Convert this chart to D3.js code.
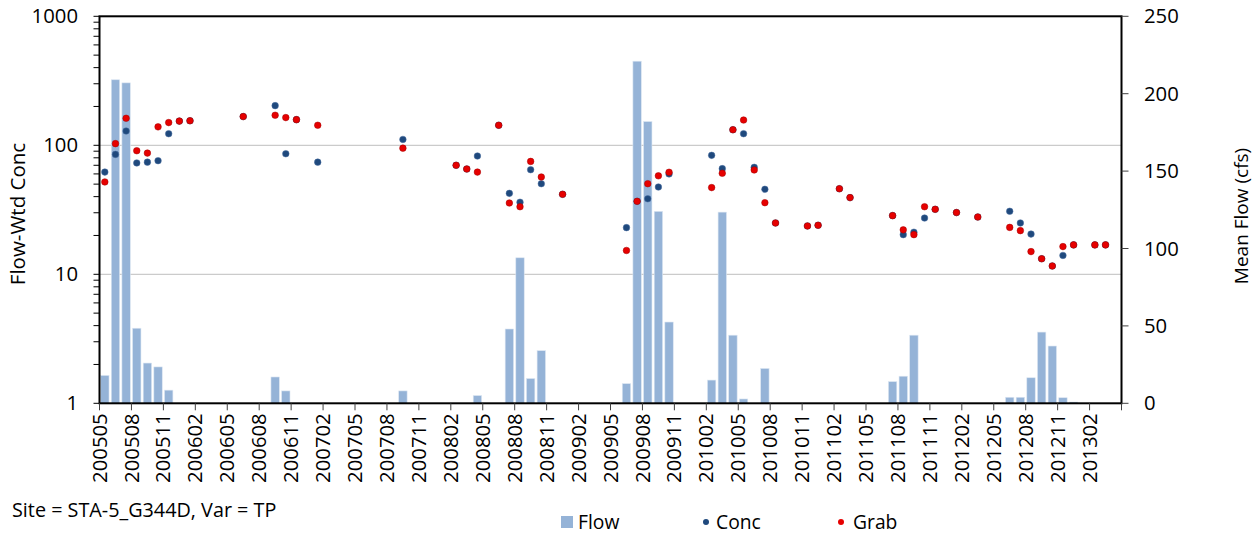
<!DOCTYPE html>
<html><head><meta charset="utf-8">
<script src="https://cdn.jsdelivr.net/npm/d3@7"></script>
<style>
body{margin:0;background:#fff;}
svg{display:block;font-family:"Open Sans","Liberation Sans",sans-serif;}
</style></head><body>
<svg id="c" width="1258" height="535"></svg>
<script>
// Categories: monthly, 200505 .. 201304
const months = [
 "200505","200506","200507","200508","200509","200510","200511","200512",
 "200601","200602","200603","200604","200605","200606","200607","200608","200609","200610","200611","200612",
 "200701","200702","200703","200704","200705","200706","200707","200708","200709","200710","200711","200712",
 "200801","200802","200803","200804","200805","200806","200807","200808","200809","200810","200811","200812",
 "200901","200902","200903","200904","200905","200906","200907","200908","200909","200910","200911","200912",
 "201001","201002","201003","201004","201005","201006","201007","201008","201009","201010","201011","201012",
 "201101","201102","201103","201104","201105","201106","201107","201108","201109","201110","201111","201112",
 "201201","201202","201203","201204","201205","201206","201207","201208","201209","201210","201211","201212",
 "201301","201302","201303","201304"
];
// Tick labels (every 3 months)
const tickLabels = ["200505","200508","200511","200602","200605","200608","200611","200702","200705","200708",
 "200711","200802","200805","200808","200811","200902","200905","200908","200911","201002","201005","201008",
 "201011","201102","201105","201108","201111","201202","201205","201208","201211","201302"];

// Mean flow (cfs), right axis
const flowMonths = ["200505","200506","200507","200508","200509","200510","200511","200609","200610","200709",
 "200804","200807","200808","200809","200810","200906","200907","200908","200909","200910",
 "201002","201003","201004","201005","201007","201107","201108","201109",
 "201206","201207","201208","201209","201210","201211","201212"];
const flowValues = [18,209,207,48.5,26,23.5,8.5,17,8,8,
 5,48,94,16,34,12.7,221,182,124,52.5,
 15,123.5,44,2.8,22.5,14,17.5,44,
 3.9,3.9,16.5,46,37,3.6,0.8];

// Flow-weighted concentration (left, log axis)
const concMonths = ["200505","200506","200507","200508","200509","200510","200511","200512","200601","200606",
 "200609","200610","200611","200701","200709","200802","200803","200804","200806","200807","200808","200809",
 "200810","200812","200906","200907","200908","200909","200910","201002","201003","201004","201005","201006",
 "201007","201008","201011","201012","201102","201103","201107","201108","201109","201110","201111","201201",
 "201203","201206","201207","201208","201209","201210","201211","201212","201302","201303"];
const concValues = [62,85,129,73,74,76,123,154,155,167,
 203,86,158,74,111,70,65.5,82.6,143,42.4,36.2,64.7,
 50.4,41.7,23,36.8,38.5,47.5,60,83.6,65.9,132,123,67.5,
 45.6,25,23.7,24,46,39.3,28.5,20.3,21.2,27.3,31.9,30.1,
 27.8,30.8,25,20.5,13.2,11.6,14,16.9,16.9,16.9];

// Grab samples (left, log axis)
const grabMonths = concMonths;
const grabValues = [52,103,162,90.8,87,139,150,154,155,167,
 171,164,158,143,95,70,65.5,62,143,35.7,33.4,75,
 56.8,41.7,15.3,36.8,50.4,58,61.8,47,60.7,132,157,64.4,
 35.9,25,23.7,24,46.1,39.3,28.5,22.1,20.3,33.4,31.9,30.1,
 27.8,23.1,21.8,15,13.2,11.6,16.4,16.9,16.9,16.9];

const leftTicks = [1,10,100,1000];
const rightTicks = [0,50,100,150,200,250];

const svg = d3.select("#c");
const L = 99.5, R = 1121.5, T = 16.3, B = 403.3;

const x = d3.scaleBand().domain(months).range([L, R]).paddingInner(0.25).paddingOuter(0.125);
const step = x.step();
const xb = m => L + months.indexOf(m) * step; // boundary (left edge of month slot)
const xc = m => L + (months.indexOf(m) + 0.5) * step;
const yL = d3.scaleLog().domain([1, 1000]).range([B, T]);
const yR = d3.scaleLinear().domain([0, 250]).range([B, T]);

// gridlines
svg.append("g").selectAll("line").data([10,100]).join("line")
  .attr("x1", L).attr("x2", R).attr("y1", d => yL(d)).attr("y2", d => yL(d))
  .attr("stroke", "#bfbfbf").attr("stroke-width", 1);

// bars
const flow = flowMonths.map((m,i)=>({m, v: flowValues[i]}));
svg.append("g").selectAll("rect").data(flow).join("rect")
  .attr("x", d => xc(d.m) - 4.2).attr("width", 8.4)
  .attr("y", d => yR(d.v)).attr("height", d => B - yR(d.v))
  .attr("fill", "#95b3d7").attr("stroke", "#dce6f2").attr("stroke-width", 0.6);

// conc points
const conc = concMonths.map((m,i)=>({m, v: concValues[i]}));
svg.append("g").selectAll("circle").data(conc).join("circle")
  .attr("cx", d => xc(d.m)).attr("cy", d => yL(d.v)).attr("r", 3.3)
  .attr("fill", "#1f497d").attr("stroke", "#4a6fa0").attr("stroke-width", 0.5);
// grab points
const grab = grabMonths.map((m,i)=>({m, v: grabValues[i]}));
svg.append("g").selectAll("circle").data(grab).join("circle")
  .attr("cx", d => xc(d.m)).attr("cy", d => yL(d.v)).attr("r", 3.3)
  .attr("fill", "#e60000").attr("stroke", "#a00000").attr("stroke-width", 0.5);

// frame
svg.append("rect").attr("x", L).attr("y", T).attr("width", R-L).attr("height", B-T)
  .attr("fill", "none").attr("stroke", "#000").attr("stroke-width", 2);

// left axis with minor ticks
const minor = [];
[1,10,100].forEach(d => { for (let k=2;k<10;k++) minor.push(d*k); });
svg.append("g").selectAll("line").data(leftTicks.concat(minor)).join("line")
  .attr("x1", L-6).attr("x2", L).attr("y1", d => yL(d)).attr("y2", d => yL(d))
  .attr("stroke", "#000").attr("stroke-width", 1);
svg.append("g").selectAll("text").data(leftTicks).join("text")
  .attr("x", 78).attr("y", d => yL(d)).attr("dy", "0.35em").attr("text-anchor", "end")
  .attr("font-size", 20.3).text(d => d);

// right axis
svg.append("g").selectAll("line").data(rightTicks).join("line")
  .attr("x1", R).attr("x2", R+7).attr("y1", d => yR(d)).attr("y2", d => yR(d))
  .attr("stroke", "#404040").attr("stroke-width", 1);
svg.append("g").selectAll("text").data(rightTicks).join("text")
  .attr("x", 1144).attr("y", d => yR(d)).attr("dy", "0.35em").attr("text-anchor", "start")
  .attr("font-size", 20.3).text(d => d);

// x axis ticks + labels
svg.append("g").selectAll("line").data(tickLabels).join("line")
  .attr("x1", d => xb(d)).attr("x2", d => xb(d)).attr("y1", B).attr("y2", B+7)
  .attr("stroke", "#404040").attr("stroke-width", 1);
svg.append("line").attr("x1", R).attr("x2", R).attr("y1", B).attr("y2", B+7)
  .attr("stroke", "#404040");
svg.append("g").selectAll("text").data(tickLabels).join("text")
  .attr("transform", d => `translate(${xb(d)},${B+10}) rotate(-90)`)
  .attr("dy", "0.35em").attr("text-anchor", "end").attr("font-size", 20.3).text(d => d);

// axis titles
svg.append("text").attr("transform", "translate(18,214) rotate(-90)")
  .attr("text-anchor", "middle").attr("dy", "0.35em").attr("font-size", 20.5).text("Flow-Wtd Conc");
svg.append("text").attr("transform", "translate(1241,216) rotate(-90)")
  .attr("text-anchor", "middle").attr("dy", "0.35em").attr("font-size", 19).text("Mean Flow (cfs)");

// site note
svg.append("text").attr("x", 12).attr("y", 517).attr("font-size", 19.8).text("Site = STA-5_G344D, Var = TP");

// legend
svg.append("rect").attr("x", 561).attr("y", 516).attr("width", 12).attr("height", 12).attr("fill", "#95b3d7");
svg.append("text").attr("x", 578).attr("y", 529).attr("font-size", 19.3).text("Flow");
svg.append("circle").attr("cx", 706).attr("cy", 522).attr("r", 3).attr("fill", "#1f497d");
svg.append("text").attr("x", 716).attr("y", 529).attr("font-size", 19.3).text("Conc");
svg.append("circle").attr("cx", 841).attr("cy", 522).attr("r", 3).attr("fill", "#e60000");
svg.append("text").attr("x", 853).attr("y", 529).attr("font-size", 19.3).text("Grab");
</script></body></html>
